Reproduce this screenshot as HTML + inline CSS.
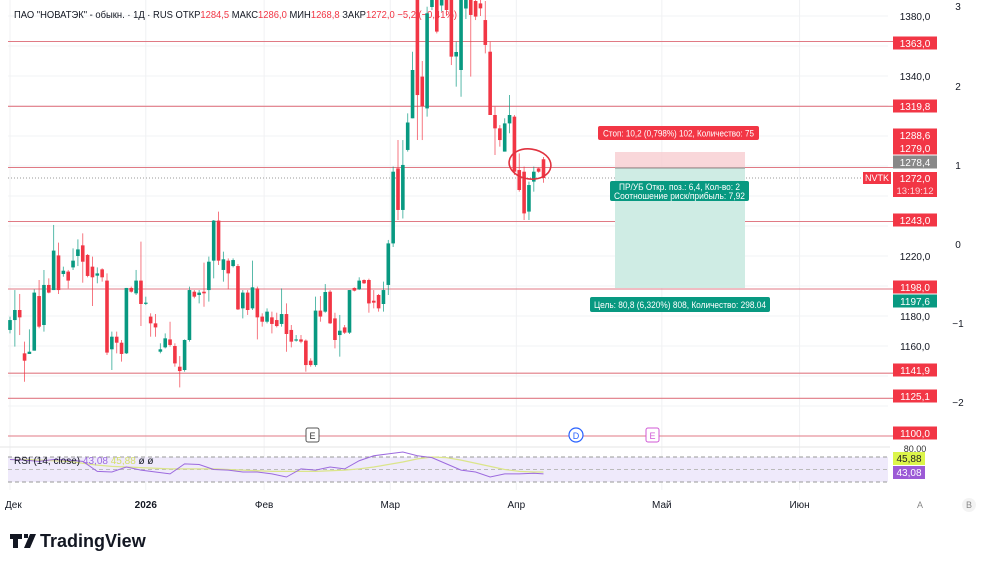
<!DOCTYPE html>
<html><head><meta charset="utf-8">
<style>
html,body{margin:0;padding:0;background:#fff;}
body{width:1000px;height:566px;overflow:hidden;position:relative;font-family:"Liberation Sans","DejaVu Sans",sans-serif;}
svg text{font-family:"Liberation Sans","DejaVu Sans",sans-serif;}
</style></head>
<body>
<svg id="chart" width="1000" height="566" viewBox="0 0 1000 566" xmlns="http://www.w3.org/2000/svg">
  <g id="grid"></g>
  <text x="14" y="18" font-size="10.5" fill="#131722" textLength="443" lengthAdjust="spacingAndGlyphs">ПАО "НОВАТЭК" - обыкн. · 1Д · RUS  ОТКР<tspan fill="#f23645">1284,5</tspan>  МАКС<tspan fill="#f23645">1286,0</tspan>  МИН<tspan fill="#f23645">1268,8</tspan>  ЗАКР<tspan fill="#f23645">1272,0 −5,2 (−0,41%)</tspan></text>
  <g id="hlines"></g>
  <line x1="8" x2="862" y1="178" y2="178" stroke="#999" stroke-dasharray="1,2"/>
  <g id="position">
    <rect x="615" y="152" width="130" height="16" fill="#f7cdd1" opacity="0.8"/>
    <rect x="615" y="168" width="130" height="120" fill="#cfece4"/>
    <line x1="615" x2="745" y1="168" y2="168" stroke="#888"/>
    <rect x="598" y="126" width="161" height="14" rx="2" fill="#f23645"/>
    <text x="603" y="136.5" font-size="9" fill="#fff" textLength="151" lengthAdjust="spacingAndGlyphs">Стоп: 10,2 (0,798%) 102, Количество: 75</text>
    <rect x="610" y="181" width="139" height="20" rx="2" fill="#089981"/>
    <text x="619" y="190" font-size="9" fill="#fff" textLength="121" lengthAdjust="spacingAndGlyphs">ПР/УБ Откр. поз.: 6,4, Кол-во: 2</text>
    <text x="614" y="199" font-size="9" fill="#fff" textLength="131" lengthAdjust="spacingAndGlyphs">Соотношение риск/прибыль: 7,92</text>
    <rect x="590" y="297" width="180" height="15" rx="2" fill="#089981"/>
    <text x="594" y="308" font-size="9" fill="#fff" textLength="172" lengthAdjust="spacingAndGlyphs">Цель: 80,8 (6,320%) 808, Количество: 298.04</text>
  </g>
  <g id="candles"></g>
  <ellipse cx="530" cy="164" rx="21" ry="15" fill="none" stroke="#e0323f" stroke-width="1.6" transform="rotate(8 530 164)"/>
  <g id="axis"></g>
  <rect x="306" y="428" width="13" height="14" rx="2" fill="#fff" stroke="#555"/>
  <text x="312.5" y="439" font-size="9" fill="#333" text-anchor="middle">E</text>
  <circle cx="576" cy="435" r="7" fill="#fff" stroke="#2962ff" stroke-width="1.2"/>
  <text x="576" y="439" font-size="9" fill="#2962ff" text-anchor="middle">D</text>
  <rect x="646" y="428" width="13" height="14" rx="2" fill="#fff" stroke="#d05ad6"/>
  <text x="652.5" y="439" font-size="9" fill="#d05ad6" text-anchor="middle">E</text>
  <line x1="0" x2="890" y1="447" y2="447" stroke="#e6e6e6"/>
  <rect x="8" y="457" width="880" height="25" fill="#efeafb"/>
  <line x1="8" x2="888" y1="457" y2="457" stroke="#999" stroke-dasharray="4,3"/>
  <line x1="8" x2="888" y1="469.5" y2="469.5" stroke="#bbb" stroke-dasharray="4,3"/>
  <line x1="8" x2="888" y1="482" y2="482" stroke="#999" stroke-dasharray="4,3"/>
  <g id="rsi"></g>
  <text x="14" y="464" font-size="10" fill="#131722">RSI (14, close) <tspan fill="#9c6ade">43,08</tspan> <tspan fill="#d5e06b">45,88</tspan>  ø  ø</text>
  <text x="915" y="452" font-size="9" fill="#333" text-anchor="middle">80,00</text>
  <rect x="893" y="452" width="32" height="13" fill="#dcf54a"/>
  <text x="909" y="462" font-size="10" fill="#222" text-anchor="middle">45,88</text>
  <rect x="893" y="466" width="32" height="13" fill="#9c5ad6"/>
  <text x="909" y="476" font-size="10" fill="#fff" text-anchor="middle">43,08</text>
  <g id="taxis"></g>
  <text x="920" y="508" font-size="9" fill="#888" text-anchor="middle">A</text>
  <circle cx="969" cy="505" r="7" fill="#f3f3f3"/>
  <text x="969" y="508" font-size="9" fill="#888" text-anchor="middle">B</text>
  <g>
    <path d="M10 534h12v5h-4v9h-5v-9h-3z M24 534h4v4h-4z M30 534h6l-6 14h-6z" fill="#131722"/>
    <text x="40" y="547" font-size="18" font-weight="bold" fill="#131722">TradingView</text>
  </g>
</svg>
<script>
const opens=[1170.7,1177.3,1184,1155.1,1154.7,1156.9,1193.3,1174,1200.7,1197.3,1220.4,1208,1209.6,1212.4,1220,1227.1,1220.7,1212.9,1206.9,1211.1,1203.6,1157.8,1166.2,1162.2,1155.1,1198.7,1195.1,1203.6,1188.2,1179.6,1175.1,1156.2,1159.1,1164.4,1160,1146.2,1144,1164,1196.2,1194,1196.2,1197.3,1216.9,1243.6,1210.7,1216.9,1213.3,1213.3,1185.1,1195.6,1185.1,1198.4,1179.6,1176.2,1179.1,1177.3,1174.7,1181.3,1170.7,1163.6,1164.4,1163.6,1150.2,1147.3,1183.6,1182.9,1196.2,1178.4,1167.3,1172.4,1168.9,1198.7,1197.8,1204,1204,1190.2,1194,1188,1200.7,1228.4,1278.4,1250.7,1290.7,1311.8,1392,1339.6,1318.4,1386,1392,1387,1392,1392,1353,1344,1385,1392,1390,1388.4,1377.3,1356.2,1314,1305.1,1289.6,1308.4,1312.9,1277.3,1276.2,1249.6,1269.6,1278.4,1284.5];
const closes=[1177.3,1184,1179.1,1150.2,1156.2,1195.6,1172.9,1200.7,1195.6,1223.6,1197.3,1210.2,1203.6,1216.9,1224.4,1216.2,1206.7,1205.8,1208.4,1205.8,1155.6,1166.2,1162.2,1154.7,1198.7,1196.2,1203.6,1188,1188.9,1175.1,1172.4,1157.8,1165.1,1160.7,1148.4,1143.3,1164,1197.3,1192.9,1195.6,1195.1,1216.2,1243.6,1216.9,1217.8,1208.4,1217.3,1184.4,1195.6,1184,1199.1,1179.1,1176.2,1182.9,1174.7,1173.3,1181.3,1168,1162.9,1164.4,1162.9,1147.3,1147.3,1183.6,1179.6,1196,1175.1,1164,1170.2,1168.9,1197.3,1196.9,1203.6,1201.8,1188.4,1188.9,1185.1,1197.3,1228.4,1276.2,1250.7,1280.7,1309,1344,1327.3,1320,1381.8,1392,1369.6,1392,1384,1352.9,1356,1392,1392,1380.7,1379.6,1385.1,1360.7,1314,1305.1,1297.3,1308.4,1314,1276.2,1264,1248.4,1267.3,1276.2,1276.2,1272];
const highs=[1179.6,1197.3,1194.7,1162.9,1171.1,1197.8,1204,1210.7,1205.1,1240.7,1228.9,1212.9,1210.7,1225.1,1231.1,1235.1,1221.3,1219.6,1212.4,1211.8,1208.4,1169.6,1169.6,1164,1198.7,1199.6,1210.7,1229.6,1192.9,1181.8,1181.3,1161.8,1168.4,1176.2,1161.8,1153.3,1164.4,1199.6,1197.3,1197.3,1215.6,1219.6,1244,1249.6,1222.9,1218.4,1218.4,1214.7,1197.3,1197.3,1216.9,1199.6,1181.8,1185.1,1182.9,1182.2,1198.4,1188.4,1174,1167.3,1167.3,1164.4,1151.8,1192.9,1193.3,1201.3,1197.3,1182.2,1180.7,1174,1197.3,1199.1,1205.8,1204.4,1204.9,1197.3,1194.7,1202.9,1230.7,1279.6,1297.3,1297.3,1315.1,1356.2,1396,1350,1386.2,1396,1396,1396,1396,1396,1362.9,1396,1396,1396,1396,1392,1390,1362.9,1319.6,1307.3,1311.8,1327.3,1314,1288.4,1279.6,1269.6,1279.6,1279,1286];
const lows=[1168.4,1159.6,1167.3,1136.2,1154.7,1156.9,1171.8,1169.6,1195.1,1197.3,1194.7,1206.2,1198.4,1210.7,1213.3,1202.2,1205.8,1186.7,1201.8,1202.9,1154,1144,1155.1,1149.6,1154.7,1195.6,1194,1173.3,1187.3,1166.2,1166.2,1155.1,1158.4,1159.6,1146.2,1132.4,1142.9,1162.9,1191.8,1188.4,1186.2,1189.6,1205.1,1214,1202.9,1197.8,1212.4,1184,1178.4,1180.7,1184,1164.4,1172.9,1175.1,1168.4,1172.4,1172.9,1156.2,1159.1,1162.9,1161.8,1142.9,1146.2,1146.2,1176.2,1182.2,1174.7,1158.4,1152.9,1168,1168,1196.4,1197.3,1201.3,1182.2,1185.1,1182.9,1182.9,1194,1226,1244,1245,1289.6,1311.8,1297.3,1297.3,1312.9,1384,1368.4,1383,1380,1347.3,1332.9,1326.2,1378,1339.6,1377.3,1380,1355.1,1314,1287.3,1292.9,1289.6,1301.8,1274,1262.9,1244,1244,1262.9,1275.5,1268.8];
const levels=[1363,1319.8,1279,1243,1198,1141.9,1125.1,1100];
const priceTicks=[1380,1340,1220,1180,1160];
const rsiIdx=[0,3,6,9,12,15,18,21,24,27,30,33,36,39,42,45,48,51,54,57,60,63,66,69,72,75,78,81,84,87,90,93,96,99,102,105,108,110];
const rsiVals=[66,65,63,66,65,63,47,46,54,49,46,43,59,58,50,49,46,46,43,38,51,49,54,51,64,72,75,78,72,69,59,49,46,38,43,43,44,43];
const rsiMa=[66,66,65,64,63,60,57,55,54,53,52,51,51,51,51,50,49,48,47,47,47,47,48,49,51,54,58,62,67,70,69,65,60,55,50,47,46,46];
const monthLabels=["Дек","2026","Фев","Мар","Апр","Май","Июн"];
const monthIdx=[0,28,52.4,78.4,104.4,134.4,162.8];

const NS="http://www.w3.org/2000/svg";
const xS=i=>10+i*4.85;
const yS=p=>16+(1380-p)*1.5;
const yR=v=>457+(70-v)*0.625;
function mk(tag,attrs,parent){const e=document.createElementNS(NS,tag);for(const k in attrs)e.setAttribute(k,attrs[k]);parent.appendChild(e);return e;}

const grid=document.getElementById('grid');
[1380,1360,1340,1320,1300,1280,1260,1240,1220,1200,1180,1160,1140,1120,1100].forEach(p=>{
  const l=mk('line',{x1:8,x2:888,y1:yS(p),y2:yS(p),stroke:'#f2f3f5'},grid);
  
  
});
monthIdx.forEach(i=>{
  const l=mk('line',{x1:xS(i),x2:xS(i),y1:0,y2:490,stroke:'#f0f1f3'},grid);
  
  
});

const hl=document.getElementById('hlines');
levels.forEach(p=>{
  const l=mk('line',{x1:8,x2:893,y1:yS(p),y2:yS(p),stroke:'#e07a84','stroke-width':1.1},hl);
  
  
});

const cg=document.getElementById('candles');
opens.forEach((o,i)=>{
  const c=closes[i],h=highs[i],lo=lows[i];
  const col=c>=o?'#089981':'#f23645';
  const x=xS(i);
  const w=mk('line',{x1:x,x2:x,y1:yS(h),y2:yS(lo),stroke:col,'stroke-width':0.9,opacity:0.75},cg);
  
  
  const top=yS(Math.max(o,c)),bot=yS(Math.min(o,c));
  const b=mk('rect',{x:x-1.8,y:top,width:3.6,height:Math.max(1.2,bot-top),fill:col},cg);
  
  
});

const ax=document.getElementById('axis');
priceTicks.forEach(p=>{
  const t=mk('text',{x:915,y:yS(p)+4,'font-size':10,fill:'#131722','text-anchor':'middle'},ax);
  t.textContent=p.toFixed(1).replace('.',',');
  
  
});
const tags=[["1363,0",43,'#f23645'],["1319,8",106,'#f23645'],["1288,6",135,'#f23645'],["1279,0",148,'#f23645'],["1278,4",162,'#888'],["1243,0",220,'#f23645'],["1198,0",287,'#f23645'],["1197,6",301,'#089981'],["1141,9",370,'#f23645'],["1125,1",396,'#f23645'],["1100,0",433,'#f23645']];
tags.forEach(([s,y,col])=>{
  const r=mk('rect',{x:893,y:y-6.5,width:44,height:13,fill:col},ax);
  
  
  const t=mk('text',{x:915,y:y+4,'font-size':10,fill:'#fff','text-anchor':'middle'},ax);
  t.textContent=s;
  
  
});
const cur=mk('rect',{x:893,y:172,width:44,height:25,fill:'#f23645'},ax);


const ct=mk('text',{x:915,y:182,'font-size':10,fill:'#fff','text-anchor':'middle'},ax);ct.textContent='1272,0';


const cd=mk('text',{x:915,y:194,'font-size':9.5,fill:'#ffd6da','text-anchor':'middle'},ax);cd.textContent='13:19:12';


const sb=mk('rect',{x:863,y:172,width:28,height:12,fill:'#f23645'},ax);


const st=mk('text',{x:877,y:181,'font-size':9,fill:'#fff','text-anchor':'middle'},ax);st.textContent='NVTK';


[["3",10],["2",90],["1",169],["0",248],["−1",327],["−2",406]].forEach(([s,y])=>{
  const t=mk('text',{x:958,y:y,'font-size':10,fill:'#131722','text-anchor':'middle'},ax);
  t.textContent=s;
  
  
});

const rg=document.getElementById('rsi');
const ma=mk('path',{d:rsiIdx.map((i,k)=>(k?'L':'M')+xS(i)+' '+yR(rsiMa[k])).join(''),fill:'none',stroke:'#dbe58a','stroke-width':1.2},rg);


const rl=mk('path',{d:rsiIdx.map((i,k)=>(k?'L':'M')+xS(i)+' '+yR(rsiVals[k])).join(''),fill:'none',stroke:'#9c6ade','stroke-width':1},rg);



const ta=document.getElementById('taxis');
monthLabels.forEach((s,k)=>{
  const t=mk('text',{x:xS(monthIdx[k]),y:508,'font-size':10,fill:'#131722','text-anchor':k===0?'start':'middle','font-weight':s==='2026'?'bold':'normal'},ta);
  if(k===0)t.setAttribute('x',5);
  t.textContent=s;
  
  
});
</script>
</body></html>
